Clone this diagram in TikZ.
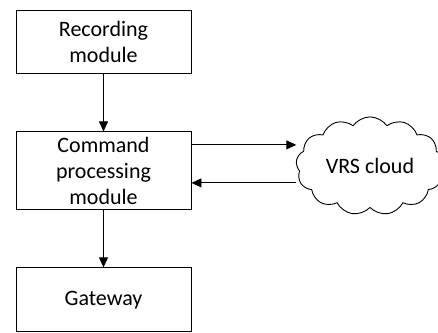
\documentclass[tikz,border=0pt]{standalone}
\usepackage{fontspec}
\setmainfont{Carlito}
\usetikzlibrary{positioning,shapes.symbols,arrows.meta}

\begin{document}
\begin{tikzpicture}[>={Triangle[length=10pt,width=9pt]},line width=0.9pt,
    modbox/.style={draw,minimum width=175pt,align=center,
      font=\fontsize{22}{26}\selectfont},
    vrs/.style={draw,cloud,cloud puffs=13,cloud puff arc=110,aspect=1.6,
      minimum width=148pt,minimum height=88pt,
      font=\fontsize{22}{26}\selectfont}]
    \useasboundingbox (0,0) rectangle (438pt,332pt);

    \node[modbox,minimum height=63pt] (rec) at (103.5pt,290.5pt)
    {Recording\\module};
    \node[modbox,minimum height=78pt,below=58pt of rec] (cmd)
    {Command\\processing\\module};
    \node[modbox,minimum height=64pt,below=57pt of cmd] (gw) {Gateway};
    \node[vrs] (cloud) at (370pt,166pt) {VRS cloud};

    \draw[->] (rec) -- (cmd);
    \draw[->] (cmd) -- (gw);
    % two links to the cloud
    \draw[->] ([yshift=26pt]cmd.east) -- ([yshift=26pt]cmd.east -| cloud.west);
    \draw[<-] ([yshift=-12pt]cmd.east) -- ([yshift=-12pt]cmd.east -| cloud.west);

  \end{tikzpicture}
\end{document}
